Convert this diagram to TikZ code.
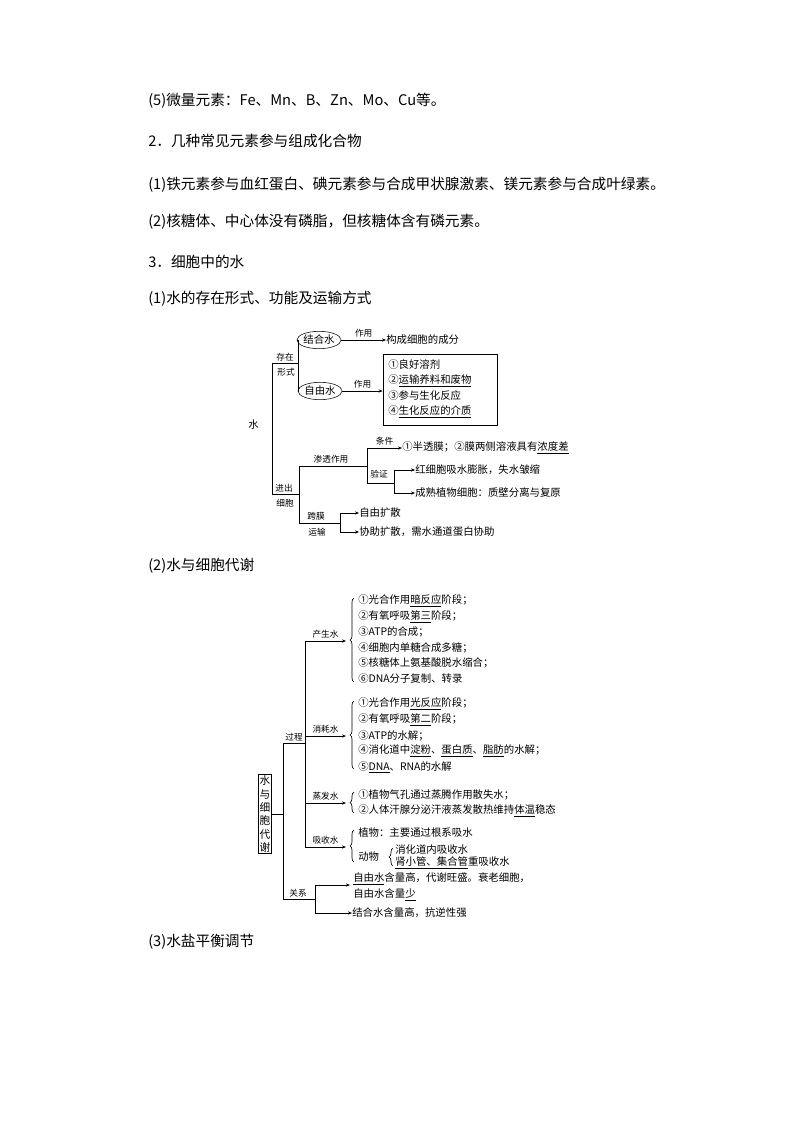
\documentclass[tikz,border=0pt]{standalone}
\usepackage{fontspec}
\setmainfont{Liberation Serif}
\newfontfamily\cjk{Noto Sans CJK SC}
\newcommand\uline[1]{\underline{#1}}
\usetikzlibrary{positioning,shapes.geometric,arrows.meta,decorations.pathreplacing}
\tikzset{
  body/.style={anchor=west, inner sep=0pt, font=\cjk\fontsize{11pt}{13pt}\selectfont},
  txt/.style={anchor=west, inner sep=0pt, font=\cjk\fontsize{7.8pt}{9pt}\selectfont},
  lab/.style={inner sep=0pt, font=\cjk\fontsize{6.5pt}{8pt}\selectfont},
  oval/.style={draw, ellipse, minimum width=30pt, minimum height=13pt, inner sep=0pt,
    font=\cjk\fontsize{7.8pt}{9pt}\selectfont},
  arr/.style={-{Stealth[length=3pt,width=2.4pt]}},
  lin/.style={line width=0.5pt},
  brc/.style={decorate, decoration={brace, amplitude=3pt}, line width=0.5pt}
}
\begin{document}
\begin{tikzpicture}[x=0.75pt, y=-0.75pt]
 \useasboundingbox (0,0) rectangle (794,1123);
 % body text
 \node[body] (t1) at (148,101) {(5)微量元素：Fe、Mn、B、Zn、Mo、Cu等。};
 \node[body] (t2) at (148,141) {2．几种常见元素参与组成化合物};
 \node[body] (t3) at (148,185) {(1)铁元素参与血红蛋白、碘元素参与合成甲状腺激素、镁元素参与合成叶绿素。};
 \node[body] (t4) at (148,222) {(2)核糖体、中心体没有磷脂，但核糖体含有磷元素。};
 \node[body] (t5) at (148,262) {3．细胞中的水};
 \node[body] (t6) at (148,299) {(1)水的存在形式、功能及运输方式};
 \node[body] (t7) at (148,566) {(2)水与细胞代谢};
 \node[body] (t8) at (148,942) {(3)水盐平衡调节};

 % diagram 1
 \node[txt] (shui) at (248,425) {水};
 \coordinate (a1) at (272,363); \coordinate (a2) at (272,494);
 \coordinate (b1) at (298,340); \coordinate (b2) at (298,391);
 \coordinate (b0) at (298,363);
 \node[oval] (jhs) at (319,340) {结合水};
 \node[oval] (zys) at (320,391) {自由水};
 \node[txt] (gc) at (386,340) {构成细胞的成分};
 \node[draw, lin, minimum width=85.5pt, minimum height=53pt, inner sep=0pt] (fbox) at (440,389.5) {};
 \node[txt] (f1) at (388,365) {①良好溶剂};
 \node[txt] (f2) at (388,381) {②\uline{运输养料和废物}};
 \node[txt] (f3) at (388,396) {③参与生化反应};
 \node[txt] (f4) at (388,412) {④\uline{生化反应的介质}};
 \draw[lin] (a1) -- (a2) (a1) -- (b0) (b1) -- (b2) (b1) -- (jhs) (b2) -- (zys);
 \draw[lin,arr] (jhs) -- (gc) node[lab, midway, above=2pt] {作用};
 \draw[lin,arr] (zys) -- (fbox.west |- zys) node[lab, midway, above=2pt] {作用};
 \node[lab] at (285,357) {存在}; \node[lab] at (286,372) {形式};
 \node[lab] at (284,488) {进出}; \node[lab] at (285,503) {细胞};
 \coordinate (c0) at (299,494); \coordinate (c1) at (299,466); \coordinate (c2) at (299,523);
 \coordinate (d1) at (367,466); \coordinate (d0) at (367,448); \coordinate (d2) at (367,483);
 \coordinate (e2) at (394,483); \coordinate (e1) at (394,470); \coordinate (e3) at (394,493);
 \node[txt] (tj) at (402,448) {①半透膜；②膜两侧溶液具有\uline{浓度差}};
 \node[txt] (y1) at (415,470) {红细胞吸水膨胀，失水皱缩};
 \node[txt] (y2) at (415,493) {成熟植物细胞：质壁分离与复原};
 \draw[lin] (a2) -- (c0) (c1) -- (c2) (c1) -- (d1) (d0) -- (d2) (d2) -- (e2) (e1) -- (e3);
 \draw[lin,arr] (d0) -- (tj) node[lab, midway, above=2pt] {条件};
 \draw[lin,arr] (e1) -- (y1);
 \draw[lin,arr] (e3) -- (y2);
 \node[lab] at (331,459) {渗透作用};
 \node[lab] at (379,474) {验证};
 \coordinate (g0) at (340,523); \coordinate (g1) at (340,513); \coordinate (g2) at (340,532);
 \node[txt] (k1) at (359,513) {自由扩散};
 \node[txt] (k2) at (359,532) {协助扩散，需水通道蛋白协助};
 \draw[lin] (c2) -- (g0) (g1) -- (g2);
 \draw[lin,arr] (g1) -- (k1);
 \draw[lin,arr] (g2) -- (k2);
 \node[lab] at (316,516) {跨膜}; \node[lab] at (317,532) {运输};

 % diagram 2
 \node[draw, lin, inner sep=1pt, align=center, text width=8pt,
   font=\cjk\fontsize{8pt}{10pt}\selectfont] (sx) at (265,814) {水\\与\\细\\胞\\代\\谢};
 \coordinate (p0) at (283,814); \coordinate (p1) at (283,743); \coordinate (p2) at (283,899);
 \coordinate (q0) at (305,743); \coordinate (q1) at (305,641); \coordinate (q2) at (305,847);
 \coordinate (q3) at (305,736); \coordinate (q4) at (305,803);
 \draw[lin] (sx) -- (p0) (p1) -- (p2) (p1) -- (q0) (q1) -- (q2);
 \node[lab] at (294,737) {过程};
 \coordinate (r1) at (346,641); \coordinate (r2) at (346,736);
 \coordinate (r3) at (346,803); \coordinate (r4) at (346,847);
 \draw[lin,arr] (q1) -- (r1) node[lab, midway, above=2pt] {产生水};
 \draw[lin,arr] (q3) -- (r2) node[lab, midway, above=2pt] {消耗水};
 \draw[lin,arr] (q4) -- (r3) node[lab, midway, above=2pt] {蒸发水};
 \draw[lin,arr] (q2) -- (r4) node[lab, midway, above=2pt] {吸收水};
 \draw[brc] (354,682) -- (354,598);
 \node[txt] (s1) at (358,601) {①光合作用\uline{暗反应}阶段；};
 \node[txt] (s2) at (358,617) {②有氧呼吸\uline{第三}阶段；};
 \node[txt] (s3) at (358,632) {③ATP的合成；};
 \node[txt] (s4) at (358,648) {④细胞内单糖合成多糖；};
 \node[txt] (s5) at (358,663) {⑤核糖体上氨基酸脱水缩合；};
 \node[txt] (s6) at (358,679) {⑥DNA分子复制、转录};
 \draw[brc] (354,769) -- (354,701);
 \node[txt] (h1) at (358,704) {①光合作用\uline{光反应}阶段；};
 \node[txt] (h2) at (358,720) {②有氧呼吸\uline{第二}阶段；};
 \node[txt] (h3) at (358,736) {③ATP的水解；};
 \node[txt] (h4) at (358,751) {④消化道中\uline{淀粉}、\uline{蛋白质}、\uline{脂肪}的水解；};
 \node[txt] (h5) at (358,767) {⑤\uline{DNA}、RNA的水解};
 \draw[brc] (354,813) -- (354,792);
 \node[txt] (z1) at (358,795) {①植物气孔通过蒸腾作用散失水；};
 \node[txt] (z2) at (358,811) {②人体汗腺分泌汗液蒸发散热维持\uline{体温}稳态};
 \draw[brc] (354,862) -- (354,830);
 \node[txt] (x1) at (358,833) {植物：主要通过根系吸水};
 \node[txt] (x2) at (358,857) {动物};
 \draw[brc] (393,866) -- (393,848);
 \node[txt] (x3) at (395,850) {消化道内吸收水};
 \node[txt] (x4) at (395,863) {\uline{肾小管、集合管}重吸收水};
 \coordinate (u0) at (315,899); \coordinate (u1) at (315,885); \coordinate (u2) at (315,913);
 \coordinate (v1) at (350,885);
 \draw[lin] (p2) -- (u0) (u1) -- (u2);
 \node[lab] at (298,893) {关系};
 \node[txt] (w1) at (353,879) {\uline{自由水}含量高，代谢旺盛。衰老细胞，};
 \node[txt] (w2) at (353,895) {自由水含量\uline{少}};
 \node[txt] (w3) at (352,913) {结合水含量高，抗逆性强};
 \draw[lin,arr] (u1) -- (v1);
 \draw[lin,arr] (u2) -- (w3);
\end{tikzpicture}
\end{document}
